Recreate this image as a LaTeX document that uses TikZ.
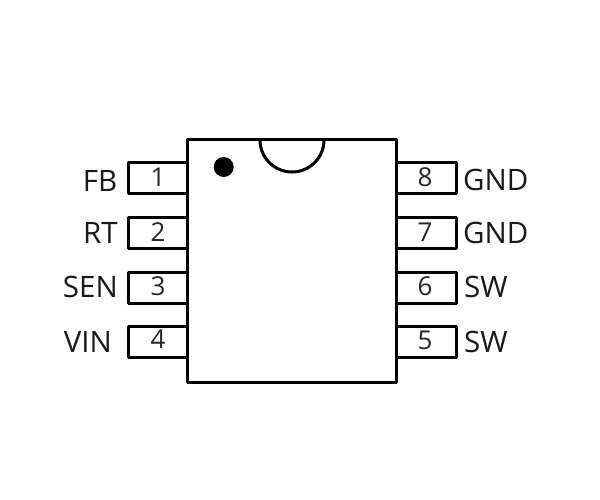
\documentclass[tikz,border=0pt]{standalone}
\usepackage{fontspec}
\setmainfont{Open Sans}
\tikzset{
  x=1pt,y=-1pt,
  body/.style={draw=black,line width=3pt,fill=white,rectangle,inner sep=0pt,minimum width=209.5pt,minimum height=242.5pt,line join=round},
  pinbox/.style={draw=black,line width=3pt,fill=white,rectangle,inner sep=0pt,minimum width=70pt,minimum height=31pt,line join=round},
  pinnum/.style={inner sep=0pt,anchor=base,font=\fontsize{26}{26}\selectfont,text=black!85},
  llabel/.style={inner sep=0pt,anchor=base east,font=\fontsize{29.5}{29.5}\selectfont,text=black!90},
  rlabel/.style={inner sep=0pt,anchor=base west,font=\fontsize{29.5}{29.5}\selectfont,text=black!90},
}
\begin{document}
\begin{tikzpicture}
\useasboundingbox (0,0) rectangle (600,500);
\fill[white] (0,0) rectangle (600,500);
% pins (behind the body)
\node[pinbox] (p1) at (163,178.5) {};
\node[pinbox] (p2) at (163,232.5) {};
\node[pinbox] (p3) at (163,287.5) {};
\node[pinbox] (p4) at (163,342) {};
\node[pinbox] (p8) at (421,178.5) {};
\node[pinbox] (p7) at (421,232.5) {};
\node[pinbox] (p6) at (421,287.5) {};
\node[pinbox] (p5) at (421,342) {};
% package
\node[body] (ic) at (291.75,261.25) {};
\draw[line width=3pt] (260,140) arc[start angle=180,end angle=0,radius=32];
\fill (223.7,167) circle[radius=10];
% pin numbers
\node[pinnum] (n1) at (158,186) {1};
\node[pinnum] (n2) at (158,241) {2};
\node[pinnum] (n3) at (158,295) {3};
\node[pinnum] (n4) at (158,348.5) {4};
\node[pinnum] (n8) at (425,186) {8};
\node[pinnum] (n7) at (425,241) {7};
\node[pinnum] (n6) at (425,295) {6};
\node[pinnum] (n5) at (425,349) {5};
% pin names
\node[llabel] (l1) at (117.5,191.5) {FB};
\node[llabel] (l2) at (118,243) {RT};
\node[llabel] (l3) at (118,297) {SEN};
\node[llabel] (l4) at (112,352) {VIN};
\node[rlabel] (l8) at (463,190) {GND};
\node[rlabel] (l7) at (463,243) {GND};
\node[rlabel] (l6) at (464,297) {SW};
\node[rlabel] (l5) at (464,352) {SW};
\end{tikzpicture}
\end{document}
